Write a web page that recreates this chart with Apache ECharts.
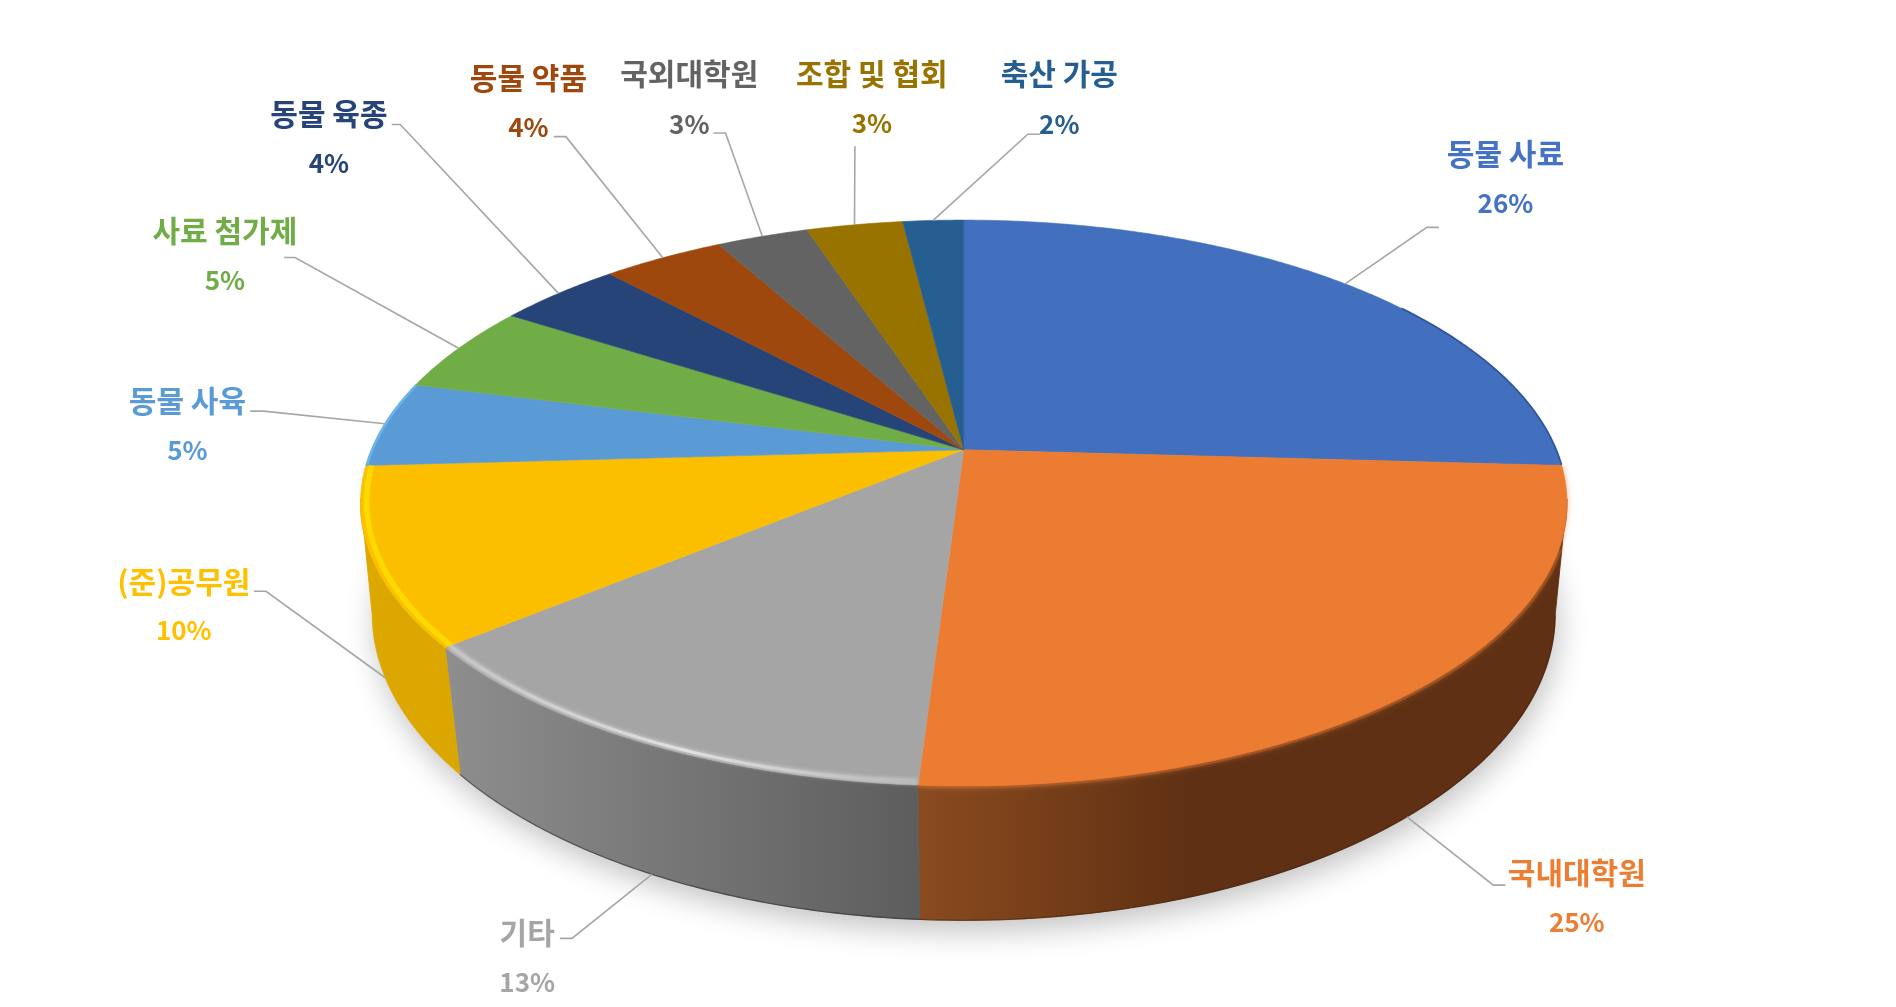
<!DOCTYPE html>
<html><head><meta charset="utf-8">
<style>html,body{margin:0;padding:0;background:#fff}#c{width:1896px;height:1007px}</style>
<script src="https://cdn.jsdelivr.net/npm/echarts@6/dist/echarts.min.js"></script>
</head><body><div id="c"></div>
<script>
const categories = ['동물 사료','국내대학원','기타','(준)공무원','동물 사육','사료 첨가제','동물 육종','동물 약품','국외대학원','조합 및 협회','축산 가공'];
const sliceShares = [25.9,25.1,13.0,10.1,4.9,5.1,4.0,3.9,2.95,3.1,1.95];
const percentLabels = ['26%','25%','13%','10%','5%','5%','4%','4%','3%','3%','2%'];
const sliceColors = ['#4270BF','#EB7C31','#A5A5A5','#FBBF00','#5B9BD5','#70AD47','#264478','#9E480E','#636363','#997300','#255E91'];
const textColors = ['#4472C4','#ED7D31','#A5A5A5','#FFC000','#5B9BD5','#70AD47','#264478','#9E480E','#636363','#997300','#255E91'];
const sideStops = [
  null,
  [[0,'#8A4B1F'],[0.42,'#5F3013'],[1,'#5F3013']],
  [[0,'#8E8E8E'],[1,'#5D5D5D']],
  [[0,'#DDA800'],[1,'#DAA600']],
  null,null,null,null,null,null,null
];
const sideEdges = [null,'rgba(50,22,5,0.45)','rgba(30,30,30,0.5)',null,null,null,null,null,null,null,null];
const rimStyles = [
  {color:'#2F5597',width:1.3,blur:1,r:1,fromDeg:55},
  {color:'#EB7C31',width:3,blur:6,r:0.996,under:'rgba(172,92,40,0.5)'},
  {color:[[0,'#C4C4C4'],[0.5,'#E0E0E0'],[1,'#B8B8B8']],width:3,blur:4,r:0.992},
  {color:'#FFD900',width:5,blur:2,r:0.99},
  {color:'#6DB3EE',width:2,blur:1,r:0.998},
  null,null,null,null,null,null
];
// label layout in 1568-wide picture units: name x, name y, percent y, elbow x, elbow y, end x
const labelLayout = [
  [1245,127,168,1180,188,1190],
  [1304,722,763,1235,732,1245],
  [436,771,812,473,776,463],
  [152,481,521,220,489,210],
  [155,331,372,218,340,207],
  [186,191,232,244,213,235],
  [272,94,135,331,103,324],
  [437,64,105,468,113,458],
  [570,61,103,600,110,590],
  [721,61,102,707,121,707],
  [876,61,103,850,111,860]
];
const S = 1896/1568;
const CX = 797*S;
const topFace = {B:490*S, A:225.7*S, k:0.188, y0:372*S};
const bottomFace = {B:482*S, A:246*S, k:0.17, y0:464.7*S};
const total = sliceShares.reduce((a,b)=>a+b,0);
const starts = []; let acc = 0;
sliceShares.forEach(v=>{starts.push(acc/total*Math.PI*2); acc+=v;});
const ends = starts.map((s,i)=>s+sliceShares[i]/total*Math.PI*2);
const DEG = Math.PI/180;
function proj(f,t,r){
  r = r===undefined?1:r;
  const d = 1+f.k*r*Math.cos(t);
  return [CX+f.B*r*Math.sin(t)/d, f.y0-f.A*r*Math.cos(t)/d];
}
function arc(f,a,b,r){
  const n = Math.max(2,Math.ceil(Math.abs(b-a)/(0.5*DEG))), pts=[];
  for(let i=0;i<=n;i++) pts.push(proj(f,a+(b-a)*i/n,r));
  return pts;
}
function grad(stops){
  return {type:'linear',x:0,y:0,x2:1,y2:0,colorStops:stops.map(s=>({offset:s[0],color:s[1]}))};
}
function renderItem(params){
  const i = params.dataIndex, children = [];
  const a = starts[i], b = ends[i];
  if(i===0){
    children.push({type:'polygon',z2:0,shape:{points:arc(bottomFace,0,Math.PI*2)},
      style:{fill:'#fff',shadowBlur:30,shadowColor:'rgba(0,0,0,0.24)',shadowOffsetX:3,shadowOffsetY:11}});
  }
  const sa = Math.max(a,100*DEG), sb = Math.min(b,260*DEG);
  if(sideStops[i] && sb>sa){
    const topArc = arc(topFace,sa,sb), botArc = arc(bottomFace,sa,sb);
    children.push({type:'polygon',z2:2,shape:{points:topArc.concat(botArc.slice().reverse())},
      style:{fill:grad(sideStops[i]),stroke:grad(sideStops[i]),lineWidth:0.9}});
    if(sideEdges[i]) children.push({type:'polyline',z2:3,shape:{points:botArc},
      style:{fill:null,stroke:sideEdges[i],lineWidth:1.3}});
  }
  const top = [proj(topFace,0,0)].concat(arc(topFace,a,b));
  children.push({type:'polygon',z2:10,shape:{points:top},
    style:{fill:sliceColors[i],stroke:sliceColors[i],lineWidth:0.6}});
  const rim = rimStyles[i];
  if(rim){
    const stroke = Array.isArray(rim.color)?grad(rim.color):rim.color;
    const glow = Array.isArray(rim.color)?rim.color[1][1]:rim.color;
    const ra = Math.max(a+0.002,(rim.fromDeg||0)*DEG);
    if(rim.under) children.push({type:'polyline',z2:9,shape:{points:arc(topFace,Math.max(ra,110*DEG),b,1.002)},
      style:{fill:null,stroke:rim.under,lineWidth:4,shadowBlur:5,shadowColor:rim.under}});
    children.push({type:'polyline',z2:11,shape:{points:arc(topFace,ra,b-0.002,rim.r)},
      style:{fill:null,stroke:stroke,lineWidth:rim.width,shadowBlur:rim.blur,shadowColor:glow,lineCap:'butt'}});
  }
  const mid = (a+b)/2;
  const front = mid>100*DEG && mid<260*DEG;
  const start = proj(front?bottomFace:topFace,mid);
  const L = labelLayout[i];
  children.push({type:'polyline',z2:20,shape:{points:[start,[L[3]*S,L[4]*S],[L[5]*S,L[4]*S]]},
    style:{fill:null,stroke:'#A6A6A6',lineWidth:1.6}});
  const nameFont = '700 30px "Noto Sans CJK KR","Noto Sans",sans-serif';
  const pctFont = '700 26px "Noto Sans CJK KR","Noto Sans",sans-serif';
  children.push({type:'text',z2:21,style:{text:categories[i],x:L[0]*S,y:L[1]*S,align:'center',verticalAlign:'middle',fill:textColors[i],font:nameFont}});
  children.push({type:'text',z2:21,style:{text:percentLabels[i],x:L[0]*S,y:L[2]*S,align:'center',verticalAlign:'middle',fill:textColors[i],font:pctFont}});
  return {type:'group',children};
}
const chart = echarts.init(document.getElementById('c'),null,{renderer:'canvas'});
chart.setOption({
  animation:false,
  backgroundColor:'#fff',
  series:[{
    type:'custom',
    coordinateSystem:'none',
    renderItem,
    clip:false,
    silent:true,
    data:categories.map((c,i)=>({name:c,value:sliceShares[i]}))
  }]
});
</script></body></html>
